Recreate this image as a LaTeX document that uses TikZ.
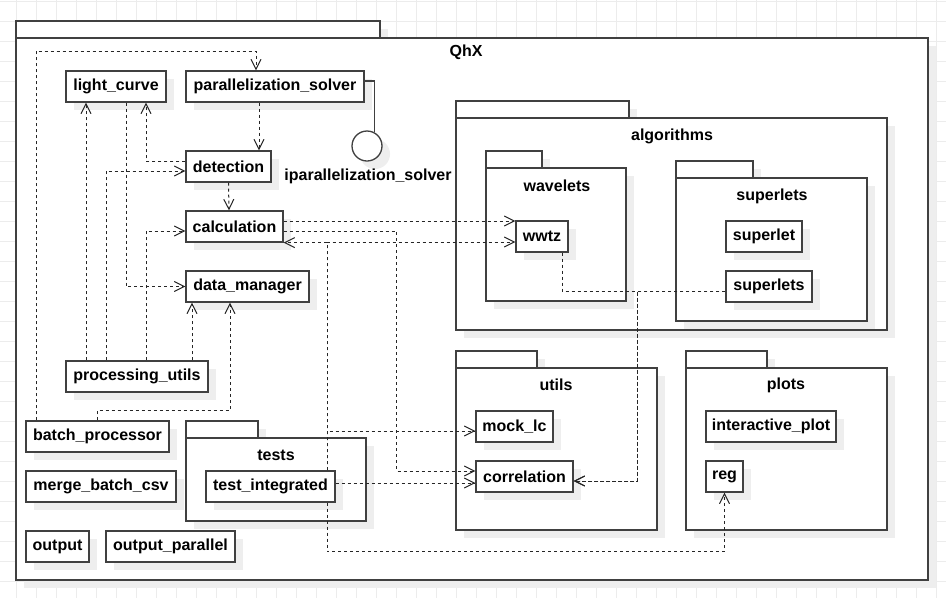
\documentclass[tikz,border=0pt]{standalone}
\usepackage{fontspec}
\setmainfont{Liberation Sans}
\usepackage{tikz}
\usetikzlibrary{arrows.meta,shadows}
\definecolor{GridGray}{RGB}{236,236,236}
\definecolor{LineGray}{RGB}{64,64,64}
\definecolor{ShadowGray}{RGB}{238,238,238}

\begin{document}
\begin{tikzpicture}[x=1pt, y=-1pt,
  font=\fontsize{16}{19}\selectfont\bfseries,
  shade/.style={drop shadow={shadow xshift=8pt, shadow yshift=-8pt, fill=ShadowGray, opacity=1}},
  box/.style={draw=LineGray, line width=1.3pt, fill=white, inner sep=0pt, minimum height=31pt, shade},
  pkg/.style={draw=LineGray, line width=1.3pt, fill=white, shade},
  pkgtitle/.style={inner sep=0pt},
  lollipop/.style={circle, draw=LineGray, line width=1.3pt, fill=white, minimum size=30pt, inner sep=0pt, shade},
  iline/.style={draw=LineGray, line width=1.3pt},
  dep/.style={draw=black!85, line width=1pt, dash pattern=on 3pt off 3pt, -{Straight Barb[length=10pt,width=10pt]}},
  gridline/.style={draw=GridGray, line width=0.8pt}]

\useasboundingbox (0,0) rectangle (946,598);

% Grid
\foreach \gx in {-4,16,...,936} \draw[gridline] (\gx,0) -- (\gx,598);
\foreach \gy in {1,21,...,581} \draw[gridline] (0,\gy) -- (946,\gy);

% Package QhX
\draw[pkg] (16,21) rectangle (380,38);
\draw[pkg] (16,38) rectangle (928,580);
\node[pkgtitle] (qhx) at (466,52) {QhX};

% Package algorithms
\draw[pkg] (456,101) rectangle (629,118);
\draw[pkg] (456,118) rectangle (887,330);
\node[pkgtitle] (algorithms) at (672,136) {algorithms};

\draw[pkg] (486,151) rectangle (542,168);
\draw[pkg] (486,168) rectangle (626,301);
\node[pkgtitle] (wavelets) at (557,186) {wavelets};

\draw[pkg] (676,161) rectangle (753,178);
\draw[pkg] (676,178) rectangle (867,321);
\node[pkgtitle] (superletspkg) at (772,196) {superlets};

% Package utils
\draw[pkg] (456,351) rectangle (537,368);
\draw[pkg] (456,368) rectangle (657,530);
\node[pkgtitle] (utils) at (556,385) {utils};

% Package plots
\draw[pkg] (686,351) rectangle (767,368);
\draw[pkg] (686,368) rectangle (887,530);
\node[pkgtitle] (plots) at (786,385) {plots};

% Package tests
\draw[pkg] (186,421) rectangle (258,438);
\draw[pkg] (186,438) rectangle (366,521);
\node[pkgtitle] (tests) at (276,455) {tests};

% Modules
\node[box, minimum width=100pt] (lightcurve) at (116,86.5) {light\_curve};
\node[box, minimum width=178pt] (parsolver) at (275,86.5) {parallelization\_solver};
\node[box, minimum width=85pt] (detection) at (228.5,166.5) {detection};
\node[box, minimum width=97pt] (calculation) at (234.5,226.5) {calculation};
\node[box, minimum width=123pt] (datamanager) at (247.5,286.5) {data\_manager};
\node[box, minimum width=142pt] (procutils) at (137,376.5) {processing\_utils};
\node[box, minimum width=143pt] (batchproc) at (97.5,436.5) {batch\_processor};
\node[box, minimum width=150pt] (mergecsv) at (101,486.5) {merge\_batch\_csv};
\node[box, minimum width=63pt] (output) at (57.5,546.5) {output};
\node[box, minimum width=129pt] (outputpar) at (170.5,546.5) {output\_parallel};
\node[box, minimum width=129pt] (testint) at (270.5,486.5) {test\_integrated};

\node[box, minimum width=52pt] (wwtz) at (542,236.5) {wwtz};
\node[box, minimum width=76pt] (superlet) at (764,236.5) {superlet};
\node[box, minimum width=86pt] (superlets) at (769,286.5) {superlets};
\node[box, minimum width=77pt] (mocklc) at (514.5,426.5) {mock\_lc};
\node[box, minimum width=97pt] (correlation) at (524.5,476.5) {correlation};
\node[box, minimum width=130pt] (interplot) at (771,426.5) {interactive\_plot};
\node[box, minimum width=37pt] (reg) at (724.5,476.5) {reg};

% Interface
\node[lollipop] (iface) at (367,146) {};
\node[pkgtitle] (ifacelabel) at (368,176) {iparallelization\_solver};
\draw[iline] ([yshift=5.5pt]parsolver.east) -| (iface.60);

% Dependencies
\draw[dep] ([xshift=-61.5pt]batchproc.north) -- (36,51) -| ([xshift=-19pt]parsolver.north);
\draw[dep] (batchproc.north) -- ++(0,-10) -| ([xshift=-17.5pt]datamanager.south);
\draw[dep] ([xshift=-51pt]procutils.north) -- ([xshift=-30pt]lightcurve.south);
\draw[dep] ([xshift=-31pt]procutils.north) |- ([yshift=-4.5pt]detection.west);
\draw[dep] ([xshift=9pt]procutils.north) |- ([yshift=-4.5pt]calculation.west);
\draw[dep] ([xshift=55pt]procutils.north) -- ([xshift=-55.5pt]datamanager.south);
\draw[dep] ([xshift=10pt]lightcurve.south) |- (datamanager.west);
\draw[dep] ([yshift=5.5pt]detection.west) -| ([xshift=30pt]lightcurve.south);
\draw[dep] ([xshift=-16pt]parsolver.south) -- ([xshift=30.5pt]detection.north);
\draw[dep] (detection.south) -- ([xshift=-5.5pt]calculation.north);
\draw[dep] ([yshift=5.5pt]calculation.east) -- ([yshift=15.5pt]wwtz.west);
\draw[dep] ([yshift=-4.5pt]calculation.east) -- ++(113,0) |- ([yshift=5.5pt]correlation.west);

\draw[dep] ([xshift=56.5pt]testint.north) |- (calculation.south east);
\draw[dep] ([xshift=56.5pt]testint.north) |- ([yshift=-5.5pt]wwtz.west);
\draw[dep] ([xshift=56.5pt]testint.north) |- ([yshift=-4.5pt]mocklc.west);
\draw[dep] ([yshift=3.5pt]testint.east) -- ([yshift=-6.5pt]correlation.west);
\draw[dep] ([xshift=56.5pt]testint.south) -- ++(0,49) -| (reg.south);

\draw[dep] ([xshift=20pt]wwtz.south) |- (637,291) |- ([yshift=-4.5pt]correlation.east);
\draw[dep] ([yshift=-4.5pt]superlets.west) -- (637,291) |- ([yshift=-4.5pt]correlation.east);

\end{tikzpicture}
\end{document}
